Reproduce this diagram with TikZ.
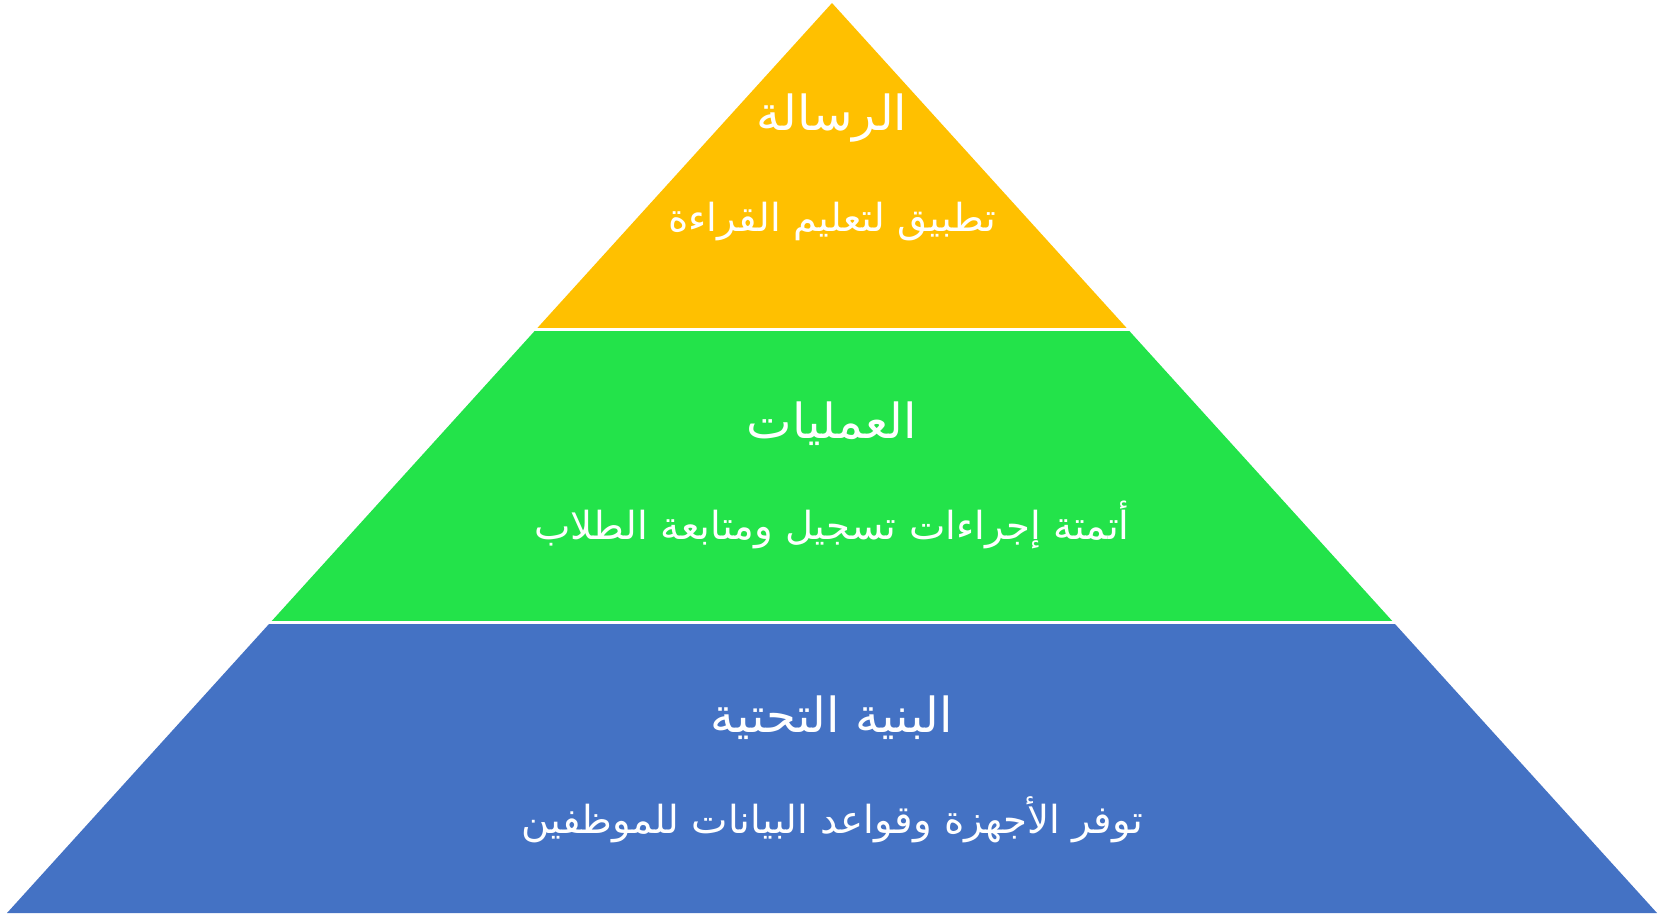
\documentclass[tikz,border=0pt]{standalone}
\usepackage{fontspec}
\newfontfamily\arabicfont[Script=Arabic]{DejaVu Sans}
\TeXXeTstate=1
\definecolor{msgyellow}{RGB}{255,192,0}
\definecolor{opsgreen}{RGB}{35,227,74}
\definecolor{infrablue}{RGB}{68,114,196}
\newcommand{\artitle}[1]{\arabicfont\fontsize{27.5}{30}\selectfont\beginR #1\endR}
\newcommand{\artext}[1]{\arabicfont\fontsize{22}{26}\selectfont\beginR #1\endR}
\tikzset{
  layertitle/.style={text=white, anchor=base, inner sep=0pt},
  layertext/.style={text=white, anchor=base, inner sep=0pt}
}
\begin{document}
\begin{tikzpicture}[x=0.02cm, y=-0.02cm]

\useasboundingbox (0,0) rectangle (1663,914);

% pyramid, three bands
\begin{scope}
\clip (7,913) -- (832,3) -- (1657,913) -- cycle;
\fill[msgyellow] (0,0) rectangle (1663,328);
\fill[opsgreen] (0,331) rectangle (1663,621);
\fill[infrablue] (0,623.5) rectangle (1663,914);
\end{scope}

\node[layertitle] (msgtitle) at (832,130) {\artitle{الرسالة}};
\node[layertext] (msgtext) at (832,231) {\artext{تطبيق لتعليم القراءة}};

\node[layertitle] (opstitle) at (832,438) {\artitle{العمليات}};
\node[layertext] (opstext) at (832,539) {\artext{أتمتة إجراءات تسجيل ومتابعة الطلاب}};

\node[layertitle] (infratitle) at (832,732) {\artitle{البنية التحتية}};
\node[layertext] (infratext) at (832,833) {\artext{توفر الأجهزة وقواعد البيانات للموظفين}};

\end{tikzpicture}
\end{document}
